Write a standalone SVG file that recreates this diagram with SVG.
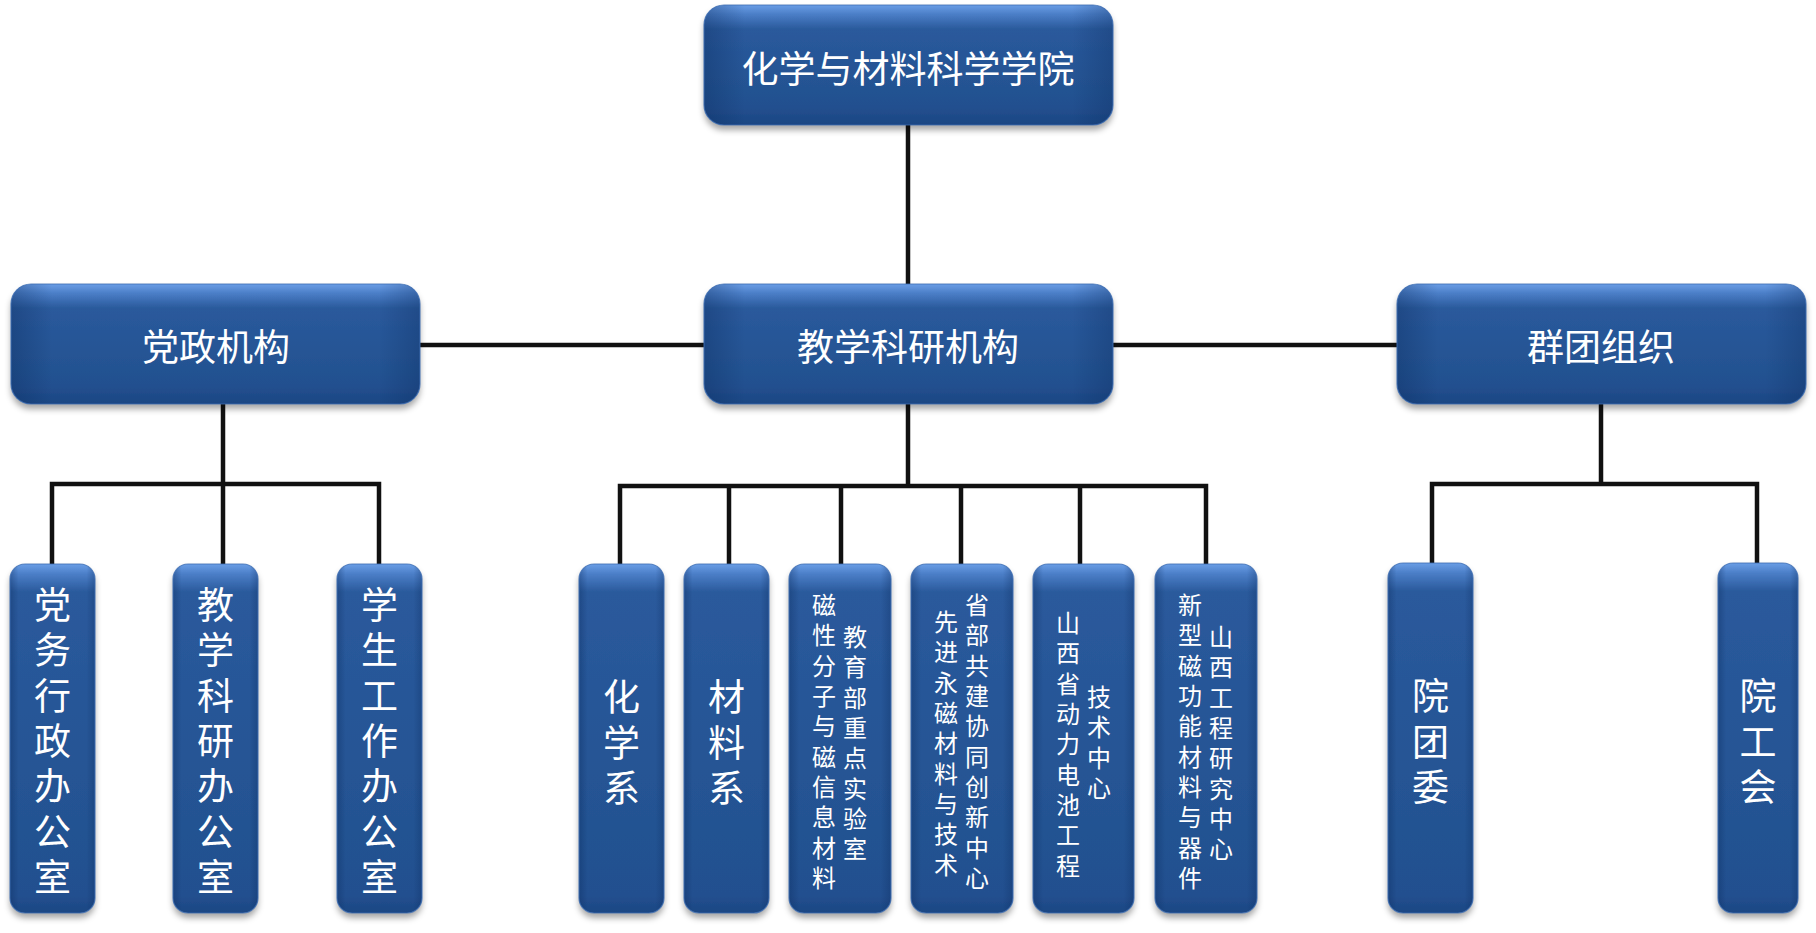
<svg xmlns="http://www.w3.org/2000/svg" width="1816" height="933" viewBox="0 0 1816 933">
<style>
.t{font-family:"Noto Sans CJK SC","Noto Sans",sans-serif;fill:#ffffff;text-anchor:middle}
.v{writing-mode:vertical-rl;text-anchor:start}
.big{font-size:37px}
.sm{font-size:24px;letter-spacing:6.3px}
.vb{letter-spacing:8.3px}
.vc{letter-spacing:8.5px}
.ln{stroke:#111111;stroke-width:4.5;fill:none;stroke-linecap:square}
.edge{fill:none;stroke:#3d6db2;stroke-width:1.2;stroke-opacity:0.8}
</style>
<defs>
<filter id="sh" x="-10%" y="-10%" width="120%" height="130%">
<feGaussianBlur in="SourceAlpha" stdDeviation="3"/>
<feOffset dy="5" result="b"/>
<feFlood flood-color="#000000" flood-opacity="0.35"/>
<feComposite in2="b" operator="in"/>
<feMerge><feMergeNode/><feMergeNode in="SourceGraphic"/></feMerge>
</filter>
<linearGradient id="gS" x1="0" y1="0" x2="0" y2="1">
<stop offset="0" stop-color="#6a9ee6"/>
<stop offset="0.08" stop-color="#4a7dc6"/>
<stop offset="0.2" stop-color="#2a5a9c"/>
<stop offset="0.85" stop-color="#22508f"/>
<stop offset="1" stop-color="#1c4683"/>
</linearGradient>
<linearGradient id="gT" x1="0" y1="0" x2="0" y2="1">
<stop offset="0" stop-color="#6a9ee6"/>
<stop offset="0.03" stop-color="#4a7dc6"/>
<stop offset="0.08" stop-color="#2a5a9c"/>
<stop offset="0.95" stop-color="#22508f"/>
<stop offset="1" stop-color="#1c4683"/>
</linearGradient>
<linearGradient id="side" x1="0" y1="0" x2="1" y2="0">
<stop offset="0" stop-color="#0a2a5c" stop-opacity="0.35"/>
<stop offset="0.1" stop-color="#0a2a5c" stop-opacity="0"/>
<stop offset="0.9" stop-color="#0a2a5c" stop-opacity="0"/>
<stop offset="1" stop-color="#0a2a5c" stop-opacity="0.3"/>
</linearGradient>
</defs>

<g id="connectors">
<path class="ln" d="M908 125 V285"/>
<path class="ln" d="M419 345 H704 M1112 345 H1398"/>
<path class="ln" d="M223 404 V564 M52 564 V484 H379 V564"/>
<path class="ln" d="M908 404 V486 M620 564 V486 H1206 V564 M729 486 V564 M841 486 V564 M961 486 V564 M1080 486 V564"/>
<path class="ln" d="M1601 404 V484 M1432 563 V484 H1757 V563"/>
</g>

<g id="n-college">
<rect x="704" y="5" width="409" height="120" rx="20" fill="url(#gS)" filter="url(#sh)"/>
<rect x="704" y="5" width="409" height="120" rx="20" fill="url(#side)"/>
<rect x="704" y="5" width="409" height="120" rx="20" class="edge"/>
<text class="t big" x="908" y="83">化学与材料科学学院</text>
</g>

<g id="n-party">
<rect x="11" y="284" width="409" height="120" rx="20" fill="url(#gS)" filter="url(#sh)"/>
<rect x="11" y="284" width="409" height="120" rx="20" fill="url(#side)"/>
<rect x="11" y="284" width="409" height="120" rx="20" class="edge"/>
<text class="t big" x="216" y="361">党政机构</text>
</g>

<g id="n-teach">
<rect x="704" y="284" width="409" height="120" rx="20" fill="url(#gS)" filter="url(#sh)"/>
<rect x="704" y="284" width="409" height="120" rx="20" fill="url(#side)"/>
<rect x="704" y="284" width="409" height="120" rx="20" class="edge"/>
<text class="t big" x="908" y="361">教学科研机构</text>
</g>

<g id="n-mass">
<rect x="1397" y="284" width="409" height="120" rx="20" fill="url(#gS)" filter="url(#sh)"/>
<rect x="1397" y="284" width="409" height="120" rx="20" fill="url(#side)"/>
<rect x="1397" y="284" width="409" height="120" rx="20" class="edge"/>
<text class="t big" x="1601" y="361">群团组织</text>
</g>

<g id="n-dangwu">
<rect x="10" y="564" width="85" height="349" rx="15" fill="url(#gT)" filter="url(#sh)"/>
<rect x="10" y="564" width="85" height="349" rx="15" fill="url(#side)"/>
<rect x="10" y="564" width="85" height="349" rx="15" class="edge"/>
<text class="t big v vb" x="52.5" y="586.5">党务行政办公室</text>
</g>

<g id="n-jiaoxue">
<rect x="173" y="564" width="85" height="349" rx="15" fill="url(#gT)" filter="url(#sh)"/>
<rect x="173" y="564" width="85" height="349" rx="15" fill="url(#side)"/>
<rect x="173" y="564" width="85" height="349" rx="15" class="edge"/>
<text class="t big v vb" x="215.5" y="586.5">教学科研办公室</text>
</g>

<g id="n-xuesheng">
<rect x="337" y="564" width="85" height="349" rx="15" fill="url(#gT)" filter="url(#sh)"/>
<rect x="337" y="564" width="85" height="349" rx="15" fill="url(#side)"/>
<rect x="337" y="564" width="85" height="349" rx="15" class="edge"/>
<text class="t big v vb" x="379.5" y="586.5">学生工作办公室</text>
</g>

<g id="n-chem">
<rect x="579" y="564" width="85" height="349" rx="15" fill="url(#gT)" filter="url(#sh)"/>
<rect x="579" y="564" width="85" height="349" rx="15" fill="url(#side)"/>
<rect x="579" y="564" width="85" height="349" rx="15" class="edge"/>
<text class="t big v vc" x="621.5" y="678.5">化学系</text>
</g>

<g id="n-mat">
<rect x="684" y="564" width="85" height="349" rx="15" fill="url(#gT)" filter="url(#sh)"/>
<rect x="684" y="564" width="85" height="349" rx="15" fill="url(#side)"/>
<rect x="684" y="564" width="85" height="349" rx="15" class="edge"/>
<text class="t big v vc" x="726.5" y="678.5">材料系</text>
</g>

<g id="n-lab">
<rect x="789" y="564" width="102" height="349" rx="15" fill="url(#gT)" filter="url(#sh)"/>
<rect x="789" y="564" width="102" height="349" rx="15" fill="url(#side)"/>
<rect x="789" y="564" width="102" height="349" rx="15" class="edge"/>
<text class="t sm v" x="824" y="593">磁性分子与磁信息材料</text>
<text class="t sm v" x="855" y="625">教育部重点实验室</text>
</g>

<g id="n-magnet">
<rect x="911" y="564" width="102" height="349" rx="15" fill="url(#gT)" filter="url(#sh)"/>
<rect x="911" y="564" width="102" height="349" rx="15" fill="url(#side)"/>
<rect x="911" y="564" width="102" height="349" rx="15" class="edge"/>
<text class="t sm v" x="946" y="610">先进永磁材料与技术</text>
<text class="t sm v" x="977" y="593">省部共建协同创新中心</text>
</g>

<g id="n-battery">
<rect x="1033" y="564" width="101" height="349" rx="15" fill="url(#gT)" filter="url(#sh)"/>
<rect x="1033" y="564" width="101" height="349" rx="15" fill="url(#side)"/>
<rect x="1033" y="564" width="101" height="349" rx="15" class="edge"/>
<text class="t sm v" x="1068" y="611">山西省动力电池工程</text>
<text class="t sm v" x="1099" y="685">技术中心</text>
</g>

<g id="n-func">
<rect x="1155" y="564" width="102" height="349" rx="15" fill="url(#gT)" filter="url(#sh)"/>
<rect x="1155" y="564" width="102" height="349" rx="15" fill="url(#side)"/>
<rect x="1155" y="564" width="102" height="349" rx="15" class="edge"/>
<text class="t sm v" x="1190" y="593">新型磁功能材料与器件</text>
<text class="t sm v" x="1221" y="625">山西工程研究中心</text>
</g>

<g id="n-youth">
<rect x="1388" y="563" width="85" height="350" rx="15" fill="url(#gT)" filter="url(#sh)"/>
<rect x="1388" y="563" width="85" height="350" rx="15" fill="url(#side)"/>
<rect x="1388" y="563" width="85" height="350" rx="15" class="edge"/>
<text class="t big v vc" x="1430.5" y="677.5">院团委</text>
</g>

<g id="n-union">
<rect x="1718" y="563" width="80" height="350" rx="15" fill="url(#gT)" filter="url(#sh)"/>
<rect x="1718" y="563" width="80" height="350" rx="15" fill="url(#side)"/>
<rect x="1718" y="563" width="80" height="350" rx="15" class="edge"/>
<text class="t big v vc" x="1758" y="677.5">院工会</text>
</g>
</svg>
